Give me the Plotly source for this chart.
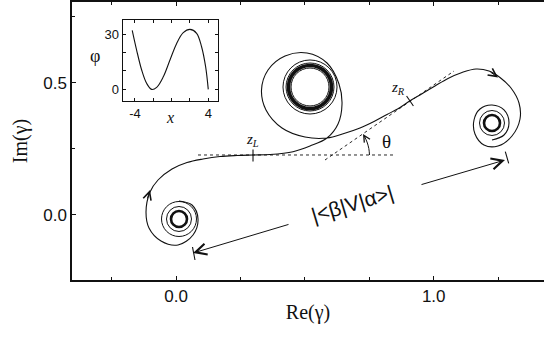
import plotly.graph_objects as go

# ---------------- data ----------------
# Main curve gamma in the complex plane (Re, Im), in the direction of travel
re_gamma = [0.0116, 0.0621, 0.0854, 0.0660, 0.0078, -0.0582, -0.1048, -0.1164,
            -0.1009, -0.0698, -0.0155, 0.0427, 0.1048, 0.1707, 0.2367, 0.2988,
            0.3648, 0.4540, 0.5200, 0.5860, 0.6287, 0.6442, 0.6325, 0.5860,
            0.5083, 0.4230, 0.3570, 0.3318, 0.3492, 0.4113, 0.5006, 0.5860,
            0.6519, 0.7140, 0.7683, 0.8188, 0.8615, 0.9080, 0.9546, 1.0050,
            1.0555, 1.1098, 1.1641, 1.2146, 1.2573, 1.2999, 1.3310, 1.3349,
            1.3038, 1.2495, 1.1951, 1.1602, 1.1564, 1.1796, 1.2262, 1.2728,
            1.2922, 1.2728, 1.2262]
im_gamma = [0.0529, 0.0378, -0.0151, -0.0756, -0.1133, -0.0982, -0.0491, 0.0113,
            0.0869, 0.1322, 0.1738, 0.1983, 0.2116, 0.2210, 0.2248, 0.2267,
            0.2286, 0.2391, 0.2607, 0.2909, 0.3438, 0.4193, 0.4949, 0.5742,
            0.6120, 0.6007, 0.5478, 0.4722, 0.3967, 0.3287, 0.2947, 0.2909,
            0.3079, 0.3287, 0.3532, 0.3797, 0.4016, 0.4314, 0.4579, 0.4873,
            0.5157, 0.5383, 0.5516, 0.5440, 0.5195, 0.4798, 0.4231, 0.3627,
            0.2985, 0.2607, 0.2645, 0.3060, 0.3589, 0.4005, 0.4156, 0.3967,
            0.3476, 0.3022, 0.2834]

# Tight windings (left end, middle, right end): centres, thin ring radii and
# the radius of the dense (thick) band, all in Re units
ring_centre_re = [0.0116, 0.5200, 1.2262]
ring_centre_im = [-0.0151, 0.4836, 0.3476]
ring_radii = [
    [0.0485, 0.0679],
    [0.0737, 0.0931, 0.1048],
    [0.0485],
]
band_radius = [0.0310, 0.0834, 0.0310]

# Points z_L, z_R (marked with small bars) and their labels
zl_bar_re = [0.2988, 0.2988]
zl_bar_im = [0.2474, 0.2021]
zr_bar_re = [0.8948, 0.9212]
zr_bar_im = [0.4496, 0.4118]
zl_label = (0.2949, 0.2833)
zr_label = (0.8615, 0.4798)

# Dotted reference lines: horizontal through z_L, tangent at z_R
horiz_re = [0.0854, 0.8498]
horiz_im = [0.2267, 0.2267]
tangent_re = [0.5782, 1.0788]
tangent_im = [0.2078, 0.5440]

# Angle theta arc
theta_arc_re = [0.7509, 0.7482, 0.7412, 0.7315]
theta_arc_im = [0.2267, 0.2512, 0.2758, 0.2966]
theta_tip = (0.7256, 0.3060)
theta_tail = (0.7373, 0.2871)
theta_label = (0.8149, 0.2758)

# Direction arrows on the curve (tip, tail)
dir_arrows = [((-0.1009, 0.0944), (-0.1126, 0.0567)),
              ((1.2495, 0.5195), (1.2146, 0.5440))]

# |<beta|V|alpha>| distance arrow
dist_left_tip = (0.0660, -0.1436)
dist_left_tail = (0.4424, -0.0340)
dist_right_tail = (0.9468, 0.1133)
dist_right_tip = (1.2767, 0.2078)
dist_bar_left_re = [0.0640, 0.0737]
dist_bar_left_im = [-0.1209, -0.1700]
dist_bar_right_re = [1.2778, 1.2910]
dist_bar_right_im = [0.2391, 0.1953]
dist_label = (0.6861, 0.0442)
dist_text = "|<β|V|α>|"

# Inset: phi(x)
inset_x = [-4.30, -3.82, -3.27, -2.73, -2.18, -1.63, -0.91, -0.18, 0.55,
           1.27, 2.00, 2.73, 3.27, 3.71, 4.00]
inset_phi = [32.0, 21.3, 10.5, 3.3, 0.0, 1.1, 6.8, 15.9, 24.9,
             30.7, 32.5, 30.4, 23.1, 12.3, 0.0]

# Tick values / labels
x_ticks = [0.0, 1.0]
x_ticktext = ["0.0", "1.0"]
x_minor = [-0.25, 0.25, 0.5, 0.75, 1.25]
y_ticks = [0.0, 0.5]
y_ticktext = ["0.0", "0.5"]
y_minor = [0.25, 0.75]
ix_ticks = [-4, 4]
ix_ticktext = ["-4", "4"]
ix_minor = [-2, 0, 2]
iy_ticks = [0, 30]
iy_ticktext = ["0", "30"]
iy_minor = [10, 20]

# ---------------- layout geometry ----------------
W, H = 544, 337
ML, MR, MT, MB = 72, 0, 2, 57
XR = [-0.4036, 1.428]
YR = [-0.2456, 0.8047]
px_per_x = (W - ML - MR) / (XR[1] - XR[0])
px_per_y = (H - MT - MB) / (YR[1] - YR[0])
y_aspect = px_per_x / px_per_y

SANS = "Liberation Sans, Arial, sans-serif"
SERIF = "Liberation Serif, Times New Roman, serif"
BLACK = "#111111"

fig = go.Figure()

# main curve
fig.add_trace(go.Scatter(x=re_gamma, y=im_gamma, mode="lines",
                         line=dict(color=BLACK, width=1.1, shape="spline", smoothing=1.0),
                         hoverinfo="skip", showlegend=False))

# dotted lines
for xs, ys in [(horiz_re, horiz_im), (tangent_re, tangent_im)]:
    fig.add_trace(go.Scatter(x=xs, y=ys, mode="lines",
                             line=dict(color=BLACK, width=0.9, dash="dot"),
                             hoverinfo="skip", showlegend=False))

# theta arc
fig.add_trace(go.Scatter(x=theta_arc_re, y=theta_arc_im, mode="lines",
                         line=dict(color=BLACK, width=1, shape="spline"),
                         hoverinfo="skip", showlegend=False))

# bars (z_L, z_R, distance ends)
for xs, ys in [(zl_bar_re, zl_bar_im), (zr_bar_re, zr_bar_im),
               (dist_bar_left_re, dist_bar_left_im), (dist_bar_right_re, dist_bar_right_im)]:
    fig.add_trace(go.Scatter(x=xs, y=ys, mode="lines",
                             line=dict(color=BLACK, width=1.1),
                             hoverinfo="skip", showlegend=False))

# inset curve
fig.add_trace(go.Scatter(x=inset_x, y=inset_phi, mode="lines", xaxis="x2", yaxis="y2",
                         line=dict(color=BLACK, width=1.1, shape="spline"),
                         hoverinfo="skip", showlegend=False))

# rings
shapes = []
for cx, cy, radii, rb in zip(ring_centre_re, ring_centre_im, ring_radii, band_radius):
    for r in radii:
        shapes.append(dict(type="circle", xref="x", yref="y",
                           x0=cx - r, x1=cx + r,
                           y0=cy - r * y_aspect, y1=cy + r * y_aspect,
                           line=dict(color=BLACK, width=1.0)))
    shapes.append(dict(type="circle", xref="x", yref="y",
                       x0=cx - rb, x1=cx + rb,
                       y0=cy - rb * y_aspect, y1=cy + rb * y_aspect,
                       line=dict(color=BLACK, width=3.6 if rb > 0.05 else 2.6)))

annotations = []
def arrow(tip, tail, size=1.6):
    annotations.append(dict(x=tip[0], y=tip[1], ax=tail[0], ay=tail[1],
                            xref="x", yref="y", axref="x", ayref="y",
                            text="", showarrow=True, arrowhead=5,
                            arrowsize=size, arrowwidth=1.0, arrowcolor=BLACK))

for tip, tail in dir_arrows:
    arrow(tip, tail, 1.6)
arrow(theta_tip, theta_tail, 1.3)
arrow(dist_left_tip, dist_left_tail, 2.2)
arrow(dist_right_tip, dist_right_tail, 2.2)

def label(pos, text, size, family, angle=0):
    annotations.append(dict(x=pos[0], y=pos[1], xref="x", yref="y", text=text,
                            showarrow=False, textangle=angle,
                            font=dict(size=size, family=family, color=BLACK)))

label(zl_label, "<i>z<sub>L</sub></i>", 15, SERIF)
label(zr_label, "<i>z<sub>R</sub></i>", 15, SERIF)
label(theta_label, "θ", 19, SERIF)
label(dist_label, dist_text, 21, SANS, angle=-16.6)

# inset axis titles
annotations.append(dict(x=-0.36, y=0.56, xref="x2 domain", yref="y2 domain", text="φ",
                        showarrow=False, font=dict(size=18, family=SERIF, color=BLACK)))
annotations.append(dict(x=0.5, y=-0.33, xref="x2 domain", yref="y2 domain", text="<i>x</i>",
                        showarrow=False, font=dict(size=16, family=SERIF, color=BLACK)))

axis_common = dict(showline=True, linecolor=BLACK, ticks="inside", tickcolor=BLACK,
                   showgrid=False, zeroline=False, automargin=False)

fig.update_layout(
    width=W, height=H,
    margin=dict(l=ML, r=MR, t=MT, b=MB),
    paper_bgcolor="white", plot_bgcolor="white",
    shapes=shapes, annotations=annotations,
    xaxis=dict(range=XR, domain=[0, 1], tickvals=x_ticks, ticktext=x_ticktext,
               minor=dict(tickvals=x_minor, ticks="inside", ticklen=3, tickcolor=BLACK),
               mirror="ticks", linewidth=1.5, ticklen=4, tickwidth=1,
               tickfont=dict(size=17, family=SANS, color=BLACK),
               title=dict(text="Re(γ)", font=dict(size=20, family=SERIF, color=BLACK), standoff=0),
               **axis_common),
    yaxis=dict(range=YR, domain=[0, 1], tickvals=y_ticks, ticktext=y_ticktext,
               minor=dict(tickvals=y_minor, ticks="inside", ticklen=3, tickcolor=BLACK),
               mirror=False, linewidth=1.5, ticklen=4, tickwidth=1,
               tickfont=dict(size=17, family=SANS, color=BLACK),
               title=dict(text="Im(γ)", font=dict(size=20, family=SERIF, color=BLACK), standoff=10),
               **axis_common),
    xaxis2=dict(range=[-5.34, 5.03], domain=[0.1074, 0.3087], anchor="y2",
                tickvals=ix_ticks, ticktext=ix_ticktext, mirror="ticks",
                minor=dict(tickvals=ix_minor, ticks="inside", ticklen=3, tickcolor=BLACK),
                linewidth=1.2, ticklen=3, tickwidth=1,
                tickfont=dict(size=13, family=SANS, color=BLACK), **axis_common),
    yaxis2=dict(range=[-6.3, 37.6], domain=[0.6439, 0.9353], anchor="x2",
                tickvals=iy_ticks, ticktext=iy_ticktext, mirror="ticks",
                minor=dict(tickvals=iy_minor, ticks="inside", ticklen=3, tickcolor=BLACK),
                linewidth=1.2, ticklen=3, tickwidth=1,
                tickfont=dict(size=13, family=SANS, color=BLACK), **axis_common),
)

fig.write_html("out.html", config={"displayModeBar": False},
               post_script="document.body.style.margin='0';")
